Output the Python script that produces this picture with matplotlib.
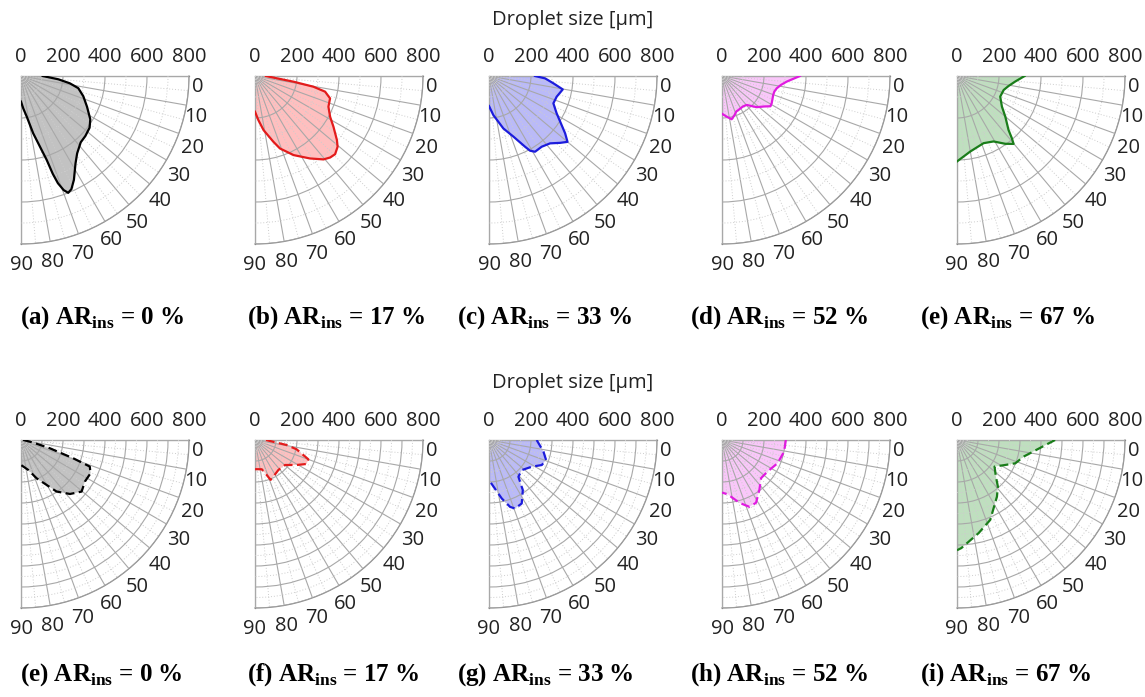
import numpy as np
import matplotlib.pyplot as plt
from matplotlib import transforms

plt.rcParams['font.family'] = ['Open Sans', 'DejaVu Sans']
plt.rcParams['mathtext.fontset'] = 'custom'
plt.rcParams['mathtext.rm'] = 'Liberation Serif:bold'
plt.rcParams['mathtext.bf'] = 'Liberation Serif:bold'

# ---- data: angle [deg] vs droplet size [um] ----
# top row (solid outlines)
ang_a = [0, 5, 8.5, 12, 18, 25, 32, 37, 43, 48, 54, 58, 63, 66, 68, 69.5, 71, 72, 73, 75, 78, 82, 86, 90]
r_a = [103, 178, 235, 279, 312, 347, 389, 409, 419, 425, 455, 490, 555, 590, 600, 580, 540, 490, 417, 348, 279, 195, 155, 122]

ang_b = [0, 6, 8.4, 10.4, 12.6, 16.6, 22.7, 28.5, 32.9, 38, 40.6, 44.3, 47.3, 50.6, 56.3, 64, 71, 74.4, 81, 85.7, 90]
r_b = [52, 104, 185, 283, 342, 373, 379, 407, 445, 495, 518, 533, 528, 514, 472, 419, 365, 325, 261, 210, 170]

ang_c = [0, 2.4, 6.5, 10.3, 17, 23, 28.9, 32.7, 37, 40, 43.2, 47.8, 53.3, 58.7, 61.2, 63, 68, 74.7, 83.7, 90]
r_c = [219, 267, 309, 357, 337, 333, 368, 403, 454, 488, 465, 433, 420, 422, 406, 378, 312, 259, 187, 143]

ang_d = [0, 5, 8.6, 12.7, 16.6, 20.3, 28.8, 32, 36, 42, 49.6, 55.6, 64.4, 68, 72, 77.4, 83.4, 90]
r_d = [371, 309, 284, 267, 260, 260, 270, 272, 247, 222, 181, 176, 180, 182, 195, 211, 195, 180]

ang_e = [0, 5.5, 11, 16.7, 25.5, 34.3, 40, 46.3, 48.6, 50.2, 54.6, 60.8, 68.4, 80, 90]
r_e = [322, 278, 250, 232, 228, 259, 300, 355, 395, 421, 396, 357, 344, 365, 407]

# bottom row (dashed outlines)
ang_e2 = [0, 8, 12, 16, 19.3, 21.1, 25.6, 33, 40.4, 47.8, 55.4, 67.8, 76.3, 90]
r_e2 = [10, 25, 60, 143, 264, 351, 367, 363, 379, 347, 298, 197, 147, 119]

ang_f = [0, 9, 12.6, 19.9, 24.9, 31, 39.8, 52, 63.4, 68.6, 71.6, 77, 90]
r_f = [52, 152, 203, 270, 271, 231, 186, 181, 195, 204, 175, 143, 139]

ang_g = [0, 12, 19.3, 25.4, 32, 42.6, 51.3, 56, 62.7, 69.2, 72.5, 77.7, 90]
r_g = [227, 265, 288, 278, 240, 212, 224, 288, 340, 349, 334, 285, 191]

ang_h = [0, 10.5, 22.6, 34.5, 44.3, 53, 61.5, 67.7, 74.4, 83.8, 90]
r_h = [304, 301, 287, 264, 260, 296, 340, 344, 311, 261, 250]

ang_i = [0, 14, 21.8, 27.3, 35.3, 43.2, 48.7, 54.8, 67.4, 76.9, 87.7, 90]
r_i = [467, 327, 299, 259, 219, 254, 295, 330, 412, 455, 515, 525]

size_ticks = [0, 200, 400, 600, 800]
angle_ticks = list(range(0, 91, 10))
ar_values = [0, 17, 33, 52, 67]
letters_top = ['a', 'b', 'c', 'd', 'e']
letters_bottom = ['e', 'f', 'g', 'h', 'i']
line_colors = ['black', '#e31b1b', '#1c1cdc', '#e01be0', '#1a7d1a']
fill_colors = [(0, 0, 0, 0.24), (1, 0, 0, 0.25), (0, 0, 0.9, 0.27), (0.9, 0, 0.9, 0.22), (0, 0.5, 0, 0.25)]

top_data = [(ang_a, r_a), (ang_b, r_b), (ang_c, r_c), (ang_d, r_d), (ang_e, r_e)]
bottom_data = [(ang_e2, r_e2), (ang_f, r_f), (ang_g, r_g), (ang_h, r_h), (ang_i, r_i)]

W, H = 1145, 697
S = 168  # panel size in px
origins_x = [21, 255, 489, 722, 957]
title_x = [20, 247, 457, 690, 920]
label_fs = 14.5

fig = plt.figure(figsize=(W / 100, H / 100), dpi=100)


def draw_panel(x0, y0, ang, r, lc, fc, dashed, r_major, r_minor):
    ax = fig.add_axes([x0 / W, (H - y0 - S) / H, S / W, S / H], projection='polar')
    ax.set_theta_zero_location('E')
    ax.set_theta_direction(-1)
    ax.set_thetamin(0)
    ax.set_thetamax(90)
    ax.set_rlim(0, 800)
    ax.set_axisbelow(False)

    ax.set_xticks(np.deg2rad(angle_ticks))
    ax.set_xticks(np.deg2rad(np.arange(5, 90, 10)), minor=True)
    ax.set_xticklabels([])
    ax.set_yticks(r_major)
    ax.set_yticks(r_minor, minor=True)
    ax.set_yticklabels([])
    ax.tick_params(which='both', length=0)
    ax.grid(True, which='major', color='#a8a8a8', lw=0.8, ls='-')
    ax.grid(True, which='minor', color='#cdcdcd', lw=0.7, ls=(0, (1, 2)))
    for sp in ax.spines.values():
        sp.set_color('#8c8c8c')
        sp.set_linewidth(0.9)

    th = np.deg2rad(ang)
    ax.fill(np.concatenate([[0], th, [0]]), np.concatenate([[0], r, [0]]),
            color=fc, lw=0, zorder=1)
    ax.plot(th, r, color=lc, lw=1.6, ls=(0, (4, 2)) if dashed else '-', zorder=4)

    # radial labels along the top edge
    up = ax.transData + transforms.ScaledTranslation(0, 19 / 100, fig.dpi_scale_trans)
    for v in size_ticks:
        ax.text(0, v, str(v), transform=up, ha='center', va='center',
                fontsize=label_fs, color='#222222')
    # angle labels outside the arc
    for a in angle_ticks:
        if a == 0:
            dist = 177
        elif a == 10:
            dist = 179
        else:
            dist = 185 + 4 * a / 90
        ax.text(np.deg2rad(a + 3.5 * (1 - a / 90)), dist * 800 / S, str(a),
                ha='center', va='center', fontsize=label_fs, color='#222222')
    return ax


rows = [(76, top_data, letters_top, False, [200, 400, 600, 800], [100, 300, 500, 700], 20, 318),
        (440, bottom_data, letters_bottom, True, list(range(100, 801, 100)),
         list(range(50, 800, 100)), 383, 675)]

for y0, data, letters, dashed, rmaj, rmin, y_lab, y_title in rows:
    for i, (ang, r) in enumerate(data):
        draw_panel(origins_x[i], y0, ang, r, line_colors[i], fill_colors[i], dashed, rmaj, rmin)
        fig.text(title_x[i] / W, 1 - y_title / H,
                 r'(%s) AR$_{\mathbf{ins}}$ = %d %%' % (letters[i], ar_values[i]),
                 family='Liberation Serif', fontweight='bold', fontsize=18,
                 ha='left', va='center')
    fig.text(573 / W, 1 - y_lab / H, 'Droplet size [μm]', ha='center', va='center',
             fontsize=label_fs, color='#222222')

fig.savefig('out.png', dpi=100)
